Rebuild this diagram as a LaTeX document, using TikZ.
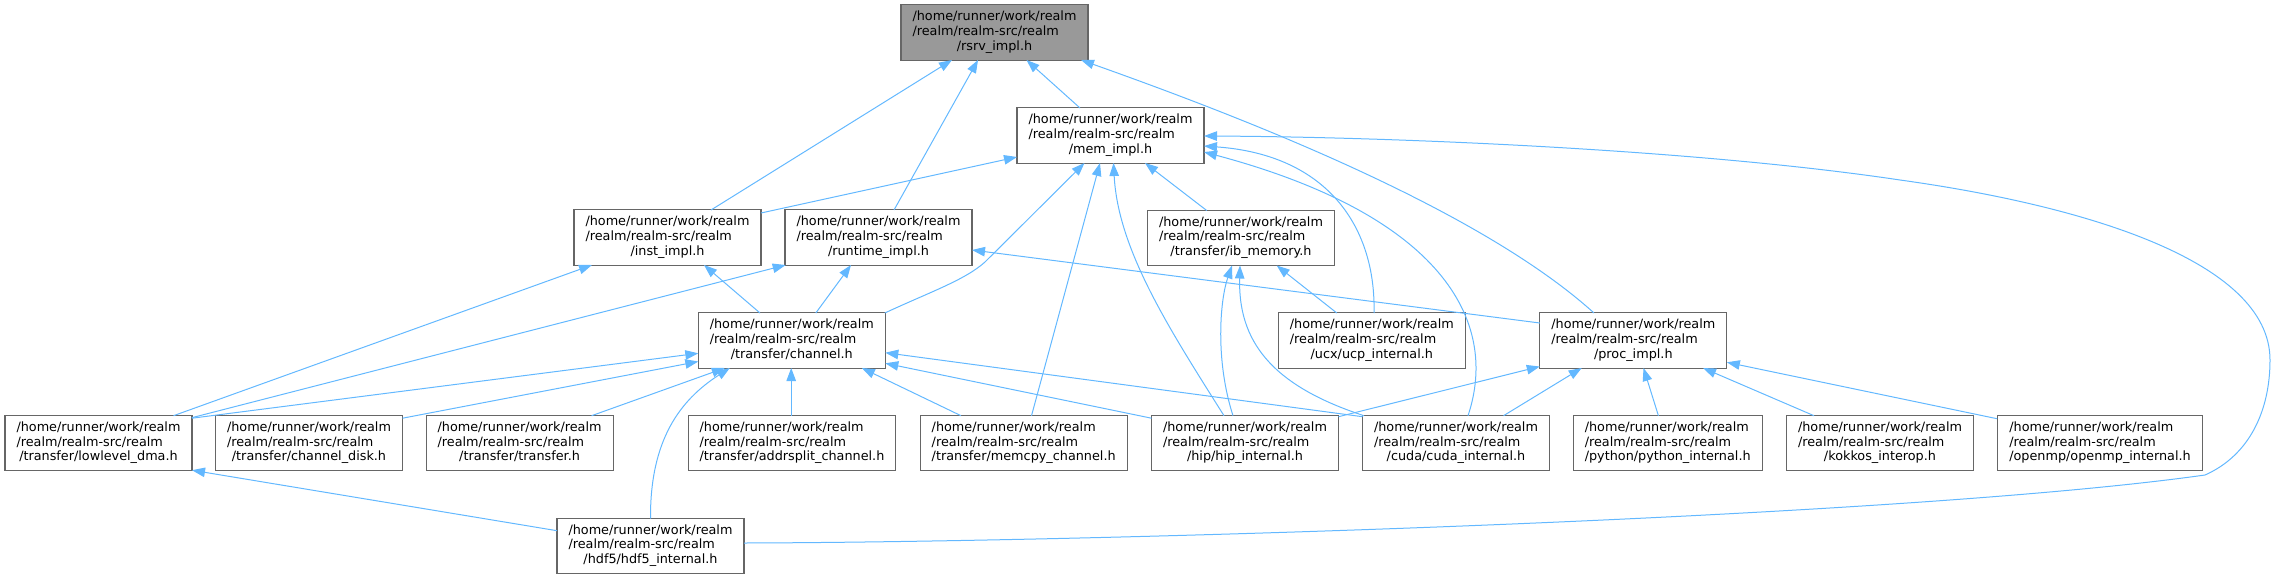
\documentclass[tikz,border=0pt]{standalone}
\usepackage{fontspec}
\setmainfont{DejaVu Sans}
\usetikzlibrary{arrows.meta,calc}
\definecolor{edgeblue}{HTML}{63B8FF}
\definecolor{boxgray}{HTML}{666666}
\definecolor{fillgray}{HTML}{999999}
\newcommand\rpath[1]{\begin{tabular}{@{}l@{}}/home/runner/work/realm\\/realm/realm-src/realm\\\multicolumn{1}{@{}c@{}}{#1}\end{tabular}}
\begin{document}
\begin{tikzpicture}[x=1pt,y=-1pt,
  fbox/.style={draw=boxgray,line width=1.05pt,fill=white,minimum width=187pt,minimum height=55pt,
    inner xsep=11.5pt,inner ysep=5.5pt,font=\fontsize{12.8}{14.7}\selectfont},
  edge/.style={draw=edgeblue,line width=1pt,-{Triangle[length=13pt,width=9.5pt]}}]
\useasboundingbox (0,0) rectangle (2276,579);
% nodes
\node[fbox,fill=fillgray] (rsrv) at (994.5,32.5) {\rpath{/rsrv\_impl.h}};
\node[fbox] (mem) at (1110.5,135.5) {\rpath{/mem\_impl.h}};
\node[fbox] (inst) at (667.5,237.5) {\rpath{/inst\_impl.h}};
\node[fbox] (runtime) at (878.5,237.5) {\rpath{/runtime\_impl.h}};
\node[fbox] (ib) at (1241,238) {\rpath{/transfer/ib\_memory.h}};
\node[fbox] (channel) at (791.8,340.5) {\rpath{/transfer/channel.h}};
\node[fbox] (ucp) at (1371.8,340.5) {\rpath{/ucx/ucp\_internal.h}};
\node[fbox] (proc) at (1633.3,340.5) {\rpath{/proc\_impl.h}};
\node[fbox] (lowlevel) at (98.5,443.2) {\rpath{/transfer/lowlevel\_dma.h}};
\node[fbox] (chdisk) at (309,443.2) {\rpath{/transfer/channel\_disk.h}};
\node[fbox] (transfer) at (519.6,443.2) {\rpath{/transfer/transfer.h}};
\node[fbox] (addrsplit) at (792,443.2) {\rpath{/transfer/addrsplit\_channel.h}};
\node[fbox] (memcpy) at (1023.7,443.2) {\rpath{/transfer/memcpy\_channel.h}};
\node[fbox] (hip) at (1245,443.2) {\rpath{/hip/hip\_internal.h}};
\node[fbox] (cuda) at (1456,443.2) {\rpath{/cuda/cuda\_internal.h}};
\node[fbox] (python) at (1667.7,443.2) {\rpath{/python/python\_internal.h}};
\node[fbox] (kokkos) at (1880,443.2) {\rpath{/kokkos\_interop.h}};
\node[fbox] (openmp) at (2100,443.2) {\rpath{/openmp/openmp\_internal.h}};
\node[fbox] (hdf5) at (650.5,546) {\rpath{/hdf5/hdf5\_internal.h}};
% edges to rsrv
\draw[edge] ($(mem)+(-30.5,-27.5)$) -- ($(rsrv)+(32,27.5)$);
\draw[edge] ($(inst)+(43.5,-27.5)$) -- ($(rsrv)+(-42.5,27.5)$);
\draw[edge] ($(runtime)+(15.5,-27.5)$) -- ($(rsrv)+(-16.5,27.5)$);
\draw[edge] ($(proc)+(-39.3,-27.5)$) .. controls (1480,210) and (1250,120) .. ($(rsrv)+(86.5,27.5)$);
% edges to mem
\draw[edge] ($(inst)+(93.5,-24.5)$) -- ($(mem)+(-93.5,21.5)$);
\draw[edge] ($(channel)+(93,-27.5)$) .. controls (930,292) and (965,280) .. (985,262) -- ($(mem)+(-26,27.5)$);
\draw[edge] ($(memcpy)+(7.8,-27.5)$) -- ($(mem)+(-10.5,27.5)$);
\draw[edge] ($(hip)+(-21,-27.5)$) .. controls (1170,330) and (1118,250) .. ($(mem)+(3,27.5)$);
\draw[edge] ($(ib)+(-34.3,-27.5)$) -- ($(mem)+(34.5,27.5)$);
\draw[edge] ($(ucp)+(2.2,-27.5)$) .. controls (1376,230) and (1330,155) .. ($(mem)+(93.5,10.5)$);
\draw[edge] ($(cuda)+(12,-27.5)$) .. controls (1500,320) and (1440,215) .. ($(mem)+(93.5,16.5)$);
\draw[edge] ($(hdf5)+(93.5,-3)$) .. controls (1100,542) and (1900,518) .. (2205,475)
  .. controls (2250,455) and (2270,410) .. (2270,360)
  .. controls (2270,260) and (2080,205) .. (1900,180)
  .. controls (1700,150) and (1400,137) .. ($(mem)+(93.5,0.5)$);
% edges to inst / runtime
\draw[edge] ($(channel)+(-31.8,-27.5)$) -- ($(inst)+(36.5,27.5)$);
\draw[edge] ($(lowlevel)+(75,-27.5)$) -- ($(inst)+(-75.5,27.5)$);
\draw[edge] ($(channel)+(24,-27.5)$) -- ($(runtime)+(-27.5,27.5)$);
\draw[edge] ($(lowlevel)+(93.3,-25.5)$) -- ($(runtime)+(-92.8,27.5)$);
\draw[edge] ($(proc)+(-93.5,-17.5)$) -- ($(runtime)+(93.5,12.5)$);
% edges to ib
\draw[edge] ($(hip)+(-12,-27.5)$) .. controls (1215,360) and (1220,300) .. ($(ib)+(-9,27.5)$);
\draw[edge] ($(cuda)+(-92,-27.5)$) .. controls (1270,385) and (1238,340) .. ($(ib)+(-1,27.5)$);
\draw[edge] ($(ucp)+(-35,-27.5)$) -- ($(ib)+(35.7,27.5)$);
% edges to channel
\draw[edge] ($(lowlevel)+(93.5,-25)$) -- ($(channel)+(-93.5,12.8)$);
\draw[edge] ($(chdisk)+(93.5,-25)$) -- ($(channel)+(-93.5,21)$);
\draw[edge] ($(transfer)+(72,-27.5)$) -- ($(channel)+(-67,27.5)$);
\draw[edge] ($(addrsplit)+(-0.8,-27.5)$) -- ($(channel)+(-0.6,27.5)$);
\draw[edge] ($(memcpy)+(-62.7,-27.5)$) -- ($(channel)+(70,27.5)$);
\draw[edge] ($(hip)+(-93.5,-25)$) -- ($(channel)+(93.5,22.8)$);
\draw[edge] ($(cuda)+(-93.5,-26.5)$) -- ($(channel)+(93.5,12.2)$);
\draw[edge] ($(hdf5)+(0,-27.5)$) .. controls (650,440) and (680,400) .. ($(channel)+(-62,27.5)$);
% edge to lowlevel
\draw[edge] ($(hdf5)+(-93.5,-15.3)$) -- ($(lowlevel)+(93.5,27)$);
% edges to proc
\draw[edge] ($(hip)+(93.5,-26.5)$) -- ($(proc)+(-93.5,26)$);
\draw[edge] ($(cuda)+(47.5,-27.5)$) -- ($(proc)+(-51.6,27.5)$);
\draw[edge] ($(python)+(-9.3,-27.5)$) -- ($(proc)+(10.2,27.5)$);
\draw[edge] ($(kokkos)+(-66,-27.5)$) -- ($(proc)+(69.7,27.5)$);
\draw[edge] ($(openmp)+(-103,-24.5)$) -- ($(proc)+(93.5,21.8)$);
\end{tikzpicture}
\end{document}
